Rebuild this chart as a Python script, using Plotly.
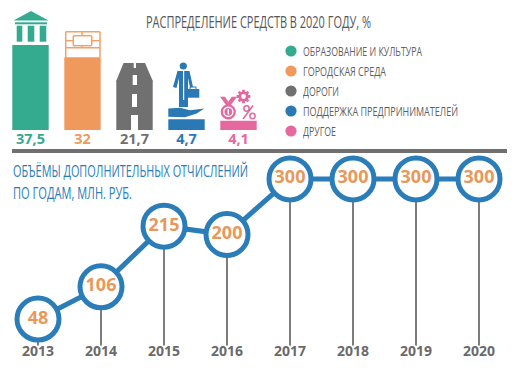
import math
import json
import plotly.graph_objects as go

# ---------- data ----------
share_categories = ["ОБРАЗОВАНИЕ И КУЛЬТУРА", "ГОРОДСКАЯ СРЕДА", "ДОРОГИ",
                    "ПОДДЕРЖКА ПРЕДПРИНИМАТЕЛЕЙ", "ДРУГОЕ"]
share_values = [37.5, 32, 21.7, 4.7, 4.1]
share_labels = ["37,5", "32", "21,7", "4,7", "4,1"]
share_colors = ["#34ab8e", "#ef9a5c", "#6f706f", "#2a78b4", "#e5689f"]
years = [2013, 2014, 2015, 2016, 2017, 2018, 2019, 2020]
amounts = [48, 106, 215, 200, 300, 300, 300, 300]

TITLE = "РАСПРЕДЕЛЕНИЕ СРЕДСТВ В 2020 ГОДУ, %"
SUB1 = "ОБЪЁМЫ ДОПОЛНИТЕЛЬНЫХ ОТЧИСЛЕНИЙ"
SUB2 = "ПО ГОДАМ, МЛН. РУБ."

W, H = 518, 375
SANS = "Open Sans"
BOLD = "Open Sans"
TEAL, ORANGE, GRAY, BLUE, PINK = share_colors
TEXT_GRAY = "#5f6062"
STEM = "#7d7d7d"
LINE_BLUE = "#2a7db8"
NUM_ORANGE = "#e8995a"

def px(x): return x / W
def py(y): return 1 - y / H

shapes = []
def poly(points, color, line=0):
    d = "M " + " L ".join(f"{px(x):.5f},{py(y):.5f}" for x, y in points) + " Z"
    shapes.append(dict(type="path", xref="paper", yref="paper", path=d, fillcolor=color,
                       line=dict(width=line, color=color), layer="above"))
def rect(x0, y0, x1, y1, color):
    poly([(x0, y0), (x1, y0), (x1, y1), (x0, y1)], color)
def circ(cx, cy, r, color):
    shapes.append(dict(type="circle", xref="paper", yref="paper", x0=px(cx - r), x1=px(cx + r),
                       y0=py(cy + r), y1=py(cy - r), fillcolor=color,
                       line=dict(width=0), layer="above"))
def seg(x0, y0, x1, y1, color, w=1.5):
    shapes.append(dict(type="line", xref="paper", yref="paper", x0=px(x0), x1=px(x1),
                       y0=py(y0), y1=py(y1), line=dict(color=color, width=w), layer="above"))

# temple icon
poly([(13.5, 20.5), (31, 11), (48.5, 20.5)], TEAL)
rect(15, 22.3, 47, 24.3, TEAL)
rect(16.7, 25.7, 22.3, 41.7, TEAL)
rect(27.7, 25.7, 34.3, 41.7, TEAL)
rect(39.7, 25.7, 46.3, 41.7, TEAL)

# city wall icon
OC = "#efa26a"
seg(65.7, 31.7, 65.7, 57.5, OC)
seg(100, 31.7, 100, 57.5, OC)
seg(65.7, 31.7, 100, 31.7, OC)
seg(65.7, 47.7, 100, 47.7, OC)
seg(65.7, 40.7, 73.3, 40.7, OC)
seg(91.7, 40.7, 100, 40.7, OC)
seg(73.3, 35.7, 91.7, 35.7, OC)
seg(73.3, 45.7, 91.7, 45.7, OC)
seg(73.3, 35.7, 73.3, 45.7, OC)
seg(91.7, 35.7, 91.7, 45.7, OC)
seg(82, 31.7, 82, 35.7, OC)
seg(82, 45.7, 82, 47.7, OC)

# road icon
poly([(123.5, 63), (145, 63), (153, 81.5), (116, 81.5)], GRAY)
for y0, y1, x0, x1 in [(63, 68, 133.7, 136), (75, 85, 132.7, 137),
                       (94, 107, 132, 137), (115, 130.5, 131, 138)]:
    rect(x0, y0, x1, y1, "white")

# businessman icon
B = share_colors[3]
circ(183.3, 66, 3.6, B)
poly([(177.5, 71), (189.5, 71), (193, 87), (190, 87.5), (188, 78), (188, 107),
      (179, 107), (179, 78), (176.5, 88), (173, 87)], B)
rect(183, 71, 184.2, 100, "white")
rect(187.5, 89, 199.3, 97.7, B)
seg(190, 89, 190, 87, B, 1)
seg(190, 87, 196, 87, B, 1)
seg(196, 87, 196, 89, B, 1)
poly([(168.3, 108.5), (180, 107.8), (190, 110.2), (204.3, 108.5), (196.7, 113.5),
      (185, 117.3), (168.3, 116.8)], B)

# medal, gear and percent icon
P = share_colors[4]
poly([(220, 96.7), (225, 96.7), (228.3, 101.7), (231.7, 96.7), (237.3, 96.7),
      (230.7, 105), (226, 105)], P)
circ(228.3, 111.8, 7.6, P)
circ(228.3, 111.8, 5.3, "white")
circ(228.3, 111.8, 3.9, P)
rect(227.6, 109, 229, 114.6, "white")
gear = []
for i in range(8):
    a = i * math.pi / 4
    for d, r in [(-0.28, 5), (-0.2, 7), (0.2, 7), (0.28, 5)]:
        gear.append((243.5 + r * math.cos(a + d), 96.5 + r * math.sin(a + d)))
poly(gear, P)
circ(243.5, 96.5, 2.4, "white")
seg(253, 105.5, 243, 119, P, 1.6)
circ(246.5, 108.5, 3.4, P); circ(246.5, 108.5, 1.9, "white")
circ(252.5, 116, 3.4, P); circ(252.5, 116, 1.9, "white")

# separator
rect(12, 149, 507, 153, "#6f706f")

# texts: narrow lettering is obtained by fitting each text to its measured width
annotations = []
fit_widths = {}
def label(x, y, text, size, color, width):
    annotations.append(dict(xref="paper", yref="paper", x=px(x), y=py(y), text=text, showarrow=False,
                            xanchor="left", yanchor="middle", align="left",
                            width=width + 2, height=round(size * 1.4), borderpad=0,
                            font=dict(family=SANS, size=size, color=color)))
    fit_widths[text] = width

legend_rows = [51, 71, 91, 111, 131]
legend_widths = [119, 83, 36, 155, 33]
for name, color, y, w in zip(share_categories, share_colors, legend_rows, legend_widths):
    circ(291, y, 5.6, color)
    label(302, y, name, 13, TEXT_GRAY, w)
label(145, 22, TITLE, 15.5, "#55565a", 225)
label(12, 171, SUB1, 16, LINE_BLUE, 235)
label(12, 193, SUB2, 16, LINE_BLUE, 119)

fig = go.Figure()

# ---------- distribution bars ----------
idx = list(range(len(share_values)))
fig.add_trace(go.Bar(x=idx, y=share_values, width=0.7, marker=dict(color=share_colors, line=dict(width=0)),
                     xaxis="x", yaxis="y", hoverinfo="skip"))
fig.add_trace(go.Scatter(x=idx, y=[-1.2] * len(idx), mode="text", text=share_labels, textposition="bottom center",
                         textfont=dict(family=BOLD, size=14.5, color=share_colors, weight=700),
                         xaxis="x", yaxis="y", hoverinfo="skip", cliponaxis=False))

# ---------- yearly line ----------
stem_x, stem_y = [], []
for yr, v in zip(years, amounts):
    stem_x += [yr, yr, None]
    stem_y += [0, v, None]
fig.add_trace(go.Scatter(x=stem_x, y=stem_y, mode="lines", line=dict(color=STEM, width=2),
                         xaxis="x2", yaxis="y2", hoverinfo="skip", cliponaxis=False))
fig.add_trace(go.Scatter(x=years, y=amounts, mode="lines+markers+text",
                         line=dict(color=LINE_BLUE, width=5),
                         marker=dict(size=42, color="white", line=dict(color=LINE_BLUE, width=5)),
                         text=[str(v) for v in amounts], textposition="middle center",
                         textfont=dict(family=BOLD, size=18, color=NUM_ORANGE, weight=700),
                         xaxis="x2", yaxis="y2", hoverinfo="skip", cliponaxis=False))

BAR_STEP, BAR_X0, BAR_BASE, BAR_SCALE = 52, 30.5, 130, 2.27
YR_STEP, YR_X0, LINE_BASE, LINE_SCALE = 63, 38, 345.7, 0.556

fig.update_layout(
    width=W, height=H, margin=dict(l=0, r=0, t=0, b=0),
    paper_bgcolor="white", plot_bgcolor="rgba(0,0,0,0)", showlegend=False,
    shapes=shapes, annotations=annotations,
    xaxis=dict(domain=[0, 1], range=[-BAR_X0 / BAR_STEP, (W - BAR_X0) / BAR_STEP], visible=False),
    yaxis=dict(domain=[0, 1], range=[(BAR_BASE - H) / BAR_SCALE, BAR_BASE / BAR_SCALE], visible=False),
    xaxis2=dict(domain=[0, 1], anchor="y2",
                range=[2013 - YR_X0 / YR_STEP, 2013 + (W - YR_X0) / YR_STEP],
                tickmode="array", tickvals=years, ticktext=[str(y) for y in years],
                showgrid=False, zeroline=False, showline=False, ticks="",
                ticklabelstandoff=-5,
                tickfont=dict(family=BOLD, size=14, color="#6a6a6a", weight=700)),
    yaxis2=dict(domain=[(H - LINE_BASE) / H, 1], anchor="x2",
                range=[0, LINE_BASE / LINE_SCALE], visible=False),
)

post = """
document.body.style.margin='0';
var fit = %s;
document.querySelectorAll('.annotation-text').forEach(function(t){
  var w = fit[t.textContent];
  if (w) { t.setAttribute('textLength', w); t.setAttribute('lengthAdjust', 'spacingAndGlyphs'); }
});
""" % json.dumps(fit_widths, ensure_ascii=False)

fig.write_html("out.html", config=dict(displayModeBar=False), post_script=post)
